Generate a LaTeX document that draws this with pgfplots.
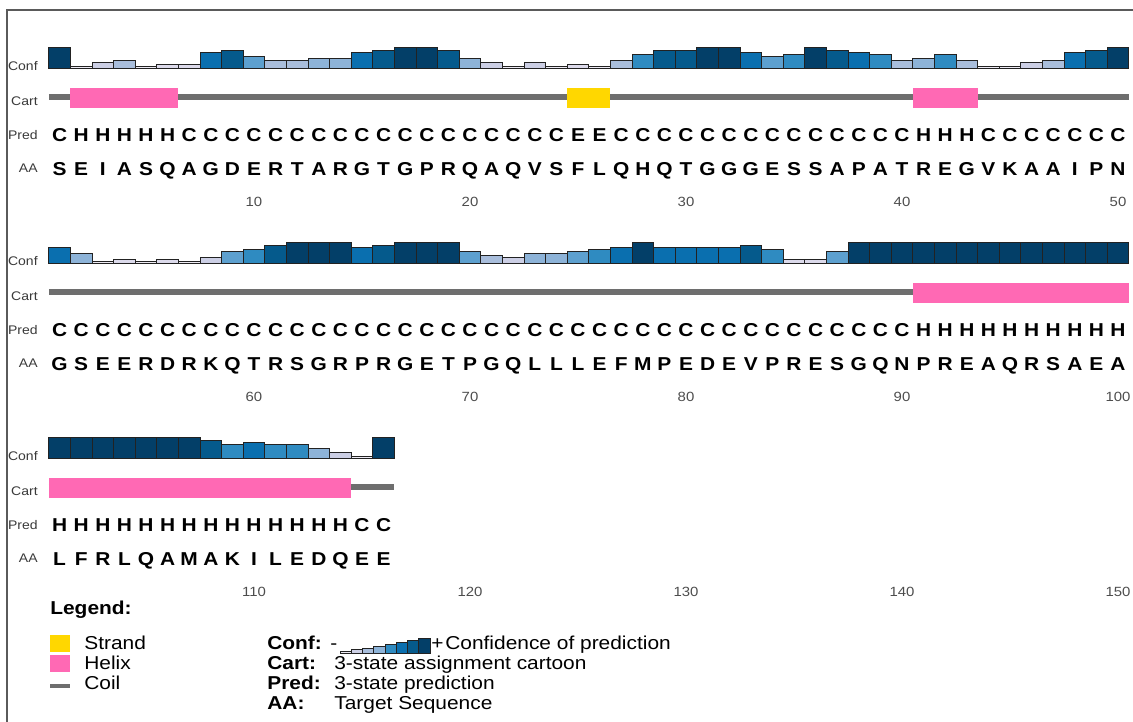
\documentclass[border=0pt]{standalone}
\usepackage{fontspec}
\setmainfont{Liberation Sans}[FakeStretch=1.12]
\usepackage{pgfplots}
\pgfplotsset{compat=1.18}
\usepackage{pgfplotstable}

\definecolor{c0}{HTML}{EEEBF4}
\definecolor{c1}{HTML}{DCDAEB}
\definecolor{c2}{HTML}{CCCFE5}
\definecolor{c3}{HTML}{A9BEDC}
\definecolor{c4}{HTML}{8DB3D8}
\definecolor{c5}{HTML}{5DA0CF}
\definecolor{c6}{HTML}{2F8BC1}
\definecolor{c7}{HTML}{0A6FAF}
\definecolor{c8}{HTML}{055A8C}
\definecolor{c9}{HTML}{033F68}
\definecolor{barline}{HTML}{222222}
\definecolor{helixpink}{HTML}{FF69B4}
\definecolor{strandyellow}{HTML}{FFD700}
\definecolor{coilgray}{HTML}{6E6E6E}
\definecolor{lblgray}{HTML}{3A3A3A}
\definecolor{tickgray}{HTML}{4D4D4D}
\definecolor{framegray}{HTML}{5A5A5A}

\pgfplotstableread{
i conf pred aa
1 9 C S
2 0 H E
3 2 H I
4 3 H A
5 0 H S
6 1 H Q
7 1 C A
8 7 C G
9 8 C D
10 5 C E
11 3 C R
12 3 C T
13 4 C A
14 4 C R
15 7 C G
16 8 C T
17 9 C G
18 9 C P
19 8 C R
20 4 C Q
21 2 C A
22 0 C Q
23 2 C V
24 0 C S
25 1 E F
26 0 E L
27 3 C Q
28 6 C H
29 8 C Q
30 8 C T
31 9 C G
32 9 C G
33 7 C G
34 5 C E
35 6 C S
36 9 C S
37 8 C A
38 7 C P
39 6 C A
40 3 C T
41 4 H R
42 6 H E
43 3 H G
44 0 C V
45 0 C K
46 2 C A
47 3 C A
48 7 C I
49 8 C P
50 9 C N
51 7 C G
52 4 C S
53 0 C E
54 1 C E
55 0 C R
56 1 C D
57 0 C R
58 2 C K
59 5 C Q
60 6 C T
61 8 C R
62 9 C S
63 9 C G
64 9 C R
65 7 C P
66 8 C R
67 9 C G
68 9 C E
69 9 C T
70 5 C P
71 3 C G
72 2 C Q
73 4 C L
74 4 C L
75 5 C L
76 6 C E
77 7 C F
78 9 C M
79 7 C P
80 7 C E
81 7 C D
82 7 C E
83 8 C V
84 6 C P
85 1 C R
86 1 C E
87 5 C S
88 9 C G
89 9 C Q
90 9 C N
91 9 H P
92 9 H R
93 9 H E
94 9 H A
95 9 H Q
96 9 H R
97 9 H S
98 9 H A
99 9 H E
100 9 H A
101 9 H L
102 9 H F
103 9 H R
104 9 H L
105 9 H Q
106 9 H A
107 9 H M
108 8 H A
109 6 H K
110 7 H I
111 6 H L
112 6 H E
113 4 H D
114 2 H Q
115 0 C E
116 9 C E
}\seq

\pgfplotsset{
  rowaxis/.style={
    width=648pt, height=90pt, scale only axis,
    anchor=south west,
    ymin=-125, ymax=25,
    axis line style={draw=none},
    ytick=\empty, major tick length=0pt,
    clip=false,
    xticklabel style={font=\fontsize{8}{9}\selectfont, text=tickgray, anchor=center, yshift=-4.8pt},
  },
  letters/.style={
    only marks, mark=none,
    nodes near coords, point meta=explicit symbolic,
    nodes near coords align=center,
    every node near coord/.append style={font=\fontsize{11.2}{13}\selectfont\bfseries, inner sep=0pt, text height=8pt, text depth=0pt, text=black, anchor=center},
  },
  coil/.style={draw=coilgray, line width=3.6pt, mark=none},
  helix/.style={fill=helixpink, draw=none, mark=none},
  strand/.style={fill=strandyellow, draw=none, mark=none},
  cbar/.style={ybar, bar width=1, bar shift=0pt, draw=barline, line width=0.6pt, mark=none},
}

\newcommand{\confbars}[2]{%
  \pgfplotsinvokeforeach{0,...,9}{%
    \addplot[cbar, fill=c##1,
      restrict x to domain=#1:#2, restrict expr to domain={\thisrow{conf}}{##1:##1}]
      table[x=i, y expr={(\thisrow{conf}+1)*2.1}] {\seq};
  }%
}
\newcommand{\seqletters}[2]{%
  \addplot[letters, restrict x to domain=#1:#2] table[x=i, y expr=-66, meta=pred] {\seq};
  \addplot[letters, restrict x to domain=#1:#2] table[x=i, y expr=-99.5, meta=aa] {\seq};
}

\begin{document}
\begin{tikzpicture}
\path[use as bounding box] (0pt,0pt) rectangle (679.8pt,433.2pt);

% row 1
\begin{axis}[rowaxis, at={(29.28pt,316.8pt)}, xmin=0.5, xmax=50.5,
  xtick={10,20,30,40,50}, xticklabels={10,20,30,40,50}]
\addplot[coil] coordinates {(0.5,-28.3) (50.5,-28.3)};
\addplot[helix] coordinates {(1.5,-18.7) (6.5,-18.7) (6.5,-39.3) (1.5,-39.3)} -- cycle;
\addplot[strand] coordinates {(24.5,-18.7) (26.5,-18.7) (26.5,-39.3) (24.5,-39.3)} -- cycle;
\addplot[helix] coordinates {(40.5,-18.7) (43.5,-18.7) (43.5,-39.3) (40.5,-39.3)} -- cycle;
\confbars{0.5}{50.5}
\seqletters{0.5}{50.5}
\end{axis}

% row 2
\begin{axis}[rowaxis, at={(29.28pt,199.8pt)}, xmin=50.5, xmax=100.5,
  xtick={60,70,80,90,100}, xticklabels={60,70,80,90,100}]
\addplot[coil] coordinates {(50.5,-28.3) (100.5,-28.3)};
\addplot[helix] coordinates {(90.5,-18.7) (100.5,-18.7) (100.5,-39.3) (90.5,-39.3)} -- cycle;
\confbars{50.5}{100.5}
\seqletters{50.5}{100.5}
\end{axis}

% row 3
\begin{axis}[rowaxis, at={(29.28pt,82.8pt)}, xmin=100.5, xmax=150.5,
  xtick={110,120,130,140,150}, xticklabels={110,120,130,140,150}]
\addplot[coil] coordinates {(100.5,-28.3) (116.5,-28.3)};
\addplot[helix] coordinates {(100.5,-18.7) (114.5,-18.7) (114.5,-39.3) (100.5,-39.3)} -- cycle;
\confbars{100.5}{116.5}
\seqletters{100.5}{116.5}
\end{axis}

% legend confidence glyph
\begin{axis}[at={(204pt,40.8pt)}, anchor=south west, width=54pt, height=9.6pt, scale only axis,
  xmin=0.5, xmax=8.5, ymin=0, ymax=8, hide axis, clip=false]
\addplot[cbar, fill=c0] coordinates {(1,1)};
\addplot[cbar, fill=c2] coordinates {(2,2)};
\addplot[cbar, fill=c3] coordinates {(3,3)};
\addplot[cbar, fill=c4] coordinates {(4,4)};
\addplot[cbar, fill=c6] coordinates {(5,5)};
\addplot[cbar, fill=c7] coordinates {(6,6)};
\addplot[cbar, fill=c8] coordinates {(7,7)};
\addplot[cbar, fill=c9] coordinates {(8,8)};
\end{axis}

\begin{scope}[x=0.6pt, y=0.6pt]
\draw[framegray, line width=0.9pt] (7,0) -- (7,712) -- (1133,712);
\foreach \r in {0,1,2} {
  \node[anchor=base east, inner sep=0pt, font=\fontsize{7.5}{9}\selectfont, text=lblgray] at (38, {651.5-195*\r}) {Conf};
  \node[anchor=base east, inner sep=0pt, font=\fontsize{7.5}{9}\selectfont, text=lblgray] at (38, {616.5-195*\r}) {Cart};
  \node[anchor=base east, inner sep=0pt, font=\fontsize{7.5}{9}\selectfont, text=lblgray] at (38, {582.5-195*\r}) {Pred};
  \node[anchor=base east, inner sep=0pt, font=\fontsize{7.5}{9}\selectfont, text=lblgray] at (38, {549.5-195*\r}) {AA};
}
\node[anchor=base west, inner sep=0pt, font=\fontsize{11.2}{13}\selectfont\bfseries] at (50,107.3) {Legend:};
\fill[strandyellow] (50,70) rectangle (70,87);
\fill[helixpink] (50,50) rectangle (70,67);
\draw[coilgray, line width=2.4pt] (50,36) -- (70,36);
\begin{scope}[every node/.style={anchor=base west, inner sep=0pt, font=\fontsize{11.2}{13}\selectfont}]
\node at (84,72.3) {Strand};
\node at (84,52.3) {Helix};
\node at (84,32.3) {Coil};
\node[font=\fontsize{11.2}{13}\selectfont\bfseries] at (267,72.3) {Conf:};
\node[font=\fontsize{11.2}{13}\selectfont\bfseries] at (267,52.3) {Cart:};
\node[font=\fontsize{11.2}{13}\selectfont\bfseries] at (267,32.3) {Pred:};
\node[font=\fontsize{11.2}{13}\selectfont\bfseries] at (267,12.3) {AA:};
\node at (330,72.3) {-};
\node at (431,72.3) {+};
\node at (445,72.3) {Confidence of prediction};
\node at (334,52.3) {3-state assignment cartoon};
\node at (334,32.3) {3-state prediction};
\node at (334,12.3) {Target Sequence};
\end{scope}
\end{scope}
\end{tikzpicture}
\end{document}
